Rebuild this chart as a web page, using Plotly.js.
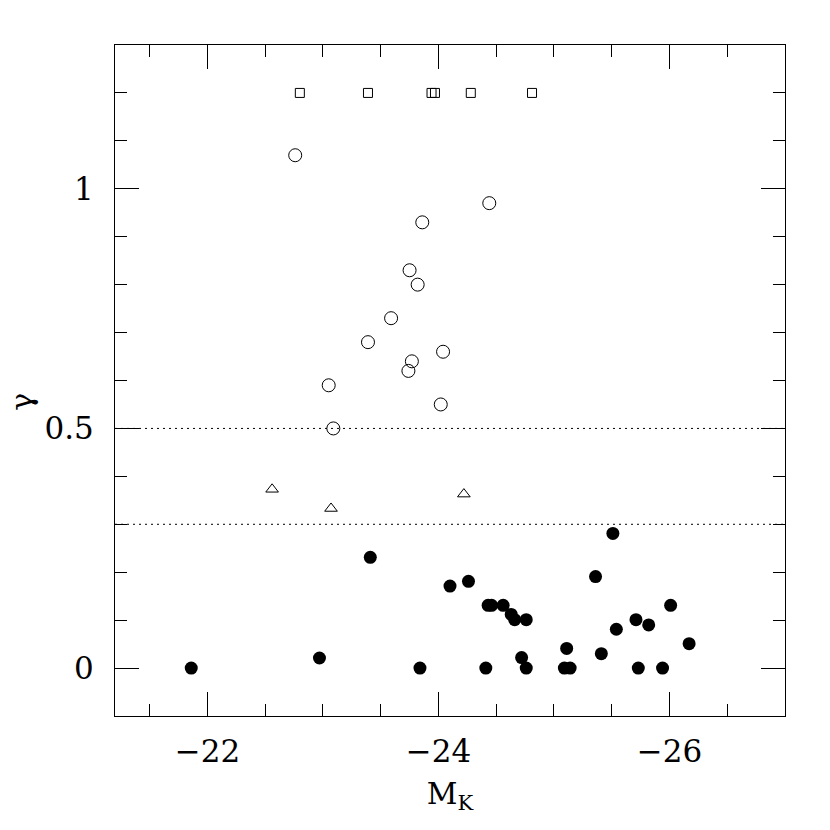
<!DOCTYPE html>
<html>
<head>
<meta charset="utf-8">
<script src="https://cdn.plot.ly/plotly-3.0.1.min.js"></script>
<style>
  html, body { margin: 0; padding: 0; background: #fff; }
  #plot { width: 830px; height: 830px; }
</style>
</head>
<body>
<div id="plot"></div>
<script>
// filled circles
var filledMK = [-21.86, -22.97, -23.41, -23.84, -24.10, -24.26, -24.43, -24.46, -24.56, -24.63,
                -24.66, -24.76, -24.41, -24.72, -24.76, -25.09, -25.14, -25.11, -25.36, -25.51,
                -25.54, -25.41, -25.71, -25.82, -26.01, -26.17, -25.73, -25.94];
var filledGamma = [0.0, 0.021, 0.231, 0.0, 0.171, 0.181, 0.131, 0.131, 0.131, 0.112,
                   0.101, 0.101, 0.0, 0.022, 0.0, 0.0, 0.0, 0.041, 0.191, 0.281,
                   0.081, 0.030, 0.101, 0.090, 0.131, 0.051, 0.0, 0.0];

// open circles
var openMK = [-22.76, -24.44, -23.86, -23.75, -23.82, -23.59, -23.39, -24.04, -23.77, -23.74, -23.05, -24.02, -23.09];
var openGamma = [1.07, 0.97, 0.93, 0.83, 0.80, 0.73, 0.68, 0.66, 0.64, 0.62, 0.59, 0.55, 0.50];

// open triangles
var triMK = [-22.56, -23.07, -24.22];
var triGamma = [0.373, 0.333, 0.363];

// open squares (plotted at the top)
var sqMK = [-22.80, -23.39, -23.94, -23.97, -24.28, -24.81];
var sqGamma = [1.2, 1.2, 1.2, 1.2, 1.2, 1.2];

// dotted threshold lines
var thresholds = [0.3, 0.5];

var serif = 'DejaVu Serif, Liberation Serif, serif';

var traceFilled = {
    x: filledMK, y: filledGamma, type: 'scatter', mode: 'markers',
    marker: { symbol: 'circle', size: 13, color: 'black', line: { width: 0 } }
};
var traceOpen = {
    x: openMK, y: openGamma, type: 'scatter', mode: 'markers',
    marker: { symbol: 'circle-open', size: 13, color: 'black', line: { width: 1, color: 'black' } }
};
var traceTri = {
    x: triMK, y: triGamma, type: 'scatter', mode: 'markers',
    marker: { symbol: 'triangle-up-open', size: 11, color: 'black', line: { width: 1, color: 'black' } }
};
var traceSq = {
    x: sqMK, y: sqGamma, type: 'scatter', mode: 'markers',
    marker: { symbol: 'square-open', size: 9, color: 'black', line: { width: 1, color: 'black' } }
};

var shapes = thresholds.map(function (t) {
    return {
        type: 'line', xref: 'paper', yref: 'y', x0: 0, x1: 1, y0: t, y1: t,
        line: { color: 'black', width: 1, dash: '2px,4px' }
    };
});

var axisCommon = {
    showgrid: false, zeroline: false, showline: true, linecolor: 'black', linewidth: 1,
    mirror: 'allticks', ticks: 'inside', ticklen: 24, tickwidth: 1, tickcolor: 'black',
    tickfont: { family: serif, size: 31, color: 'black' }
};

var layout = {
    width: 830, height: 830,
    margin: { l: 115, r: 45, t: 45, b: 114 },
    paper_bgcolor: 'white', plot_bgcolor: 'white',
    showlegend: false,
    xaxis: Object.assign({}, axisCommon, {
        range: [-21.2, -27.0], tick0: 0, dtick: 2, ticklabelstandoff: 8,
        minor: { dtick: 0.5, ticks: 'inside', ticklen: 12, tickwidth: 1, tickcolor: 'black' },
        title: { text: 'M<sub>K</sub>', font: { family: serif, size: 30, color: 'black' }, standoff: 14 }
    }),
    yaxis: Object.assign({}, axisCommon, {
        range: [-0.1, 1.3], tick0: 0, dtick: 0.5, ticklabelstandoff: 14,
        minor: { dtick: 0.1, ticks: 'inside', ticklen: 12, tickwidth: 1, tickcolor: 'black' }
    }),
    shapes: shapes,
    annotations: [{
        text: 'γ', xref: 'paper', yref: 'paper', x: -0.139, y: 0.468,
        xanchor: 'center', yanchor: 'middle', textangle: -90, showarrow: false,
        font: { family: serif, size: 30, color: 'black' }
    }]
};

Plotly.newPlot('plot', [traceFilled, traceOpen, traceTri, traceSq], layout, { staticPlot: true });
</script>
</body>
</html>
